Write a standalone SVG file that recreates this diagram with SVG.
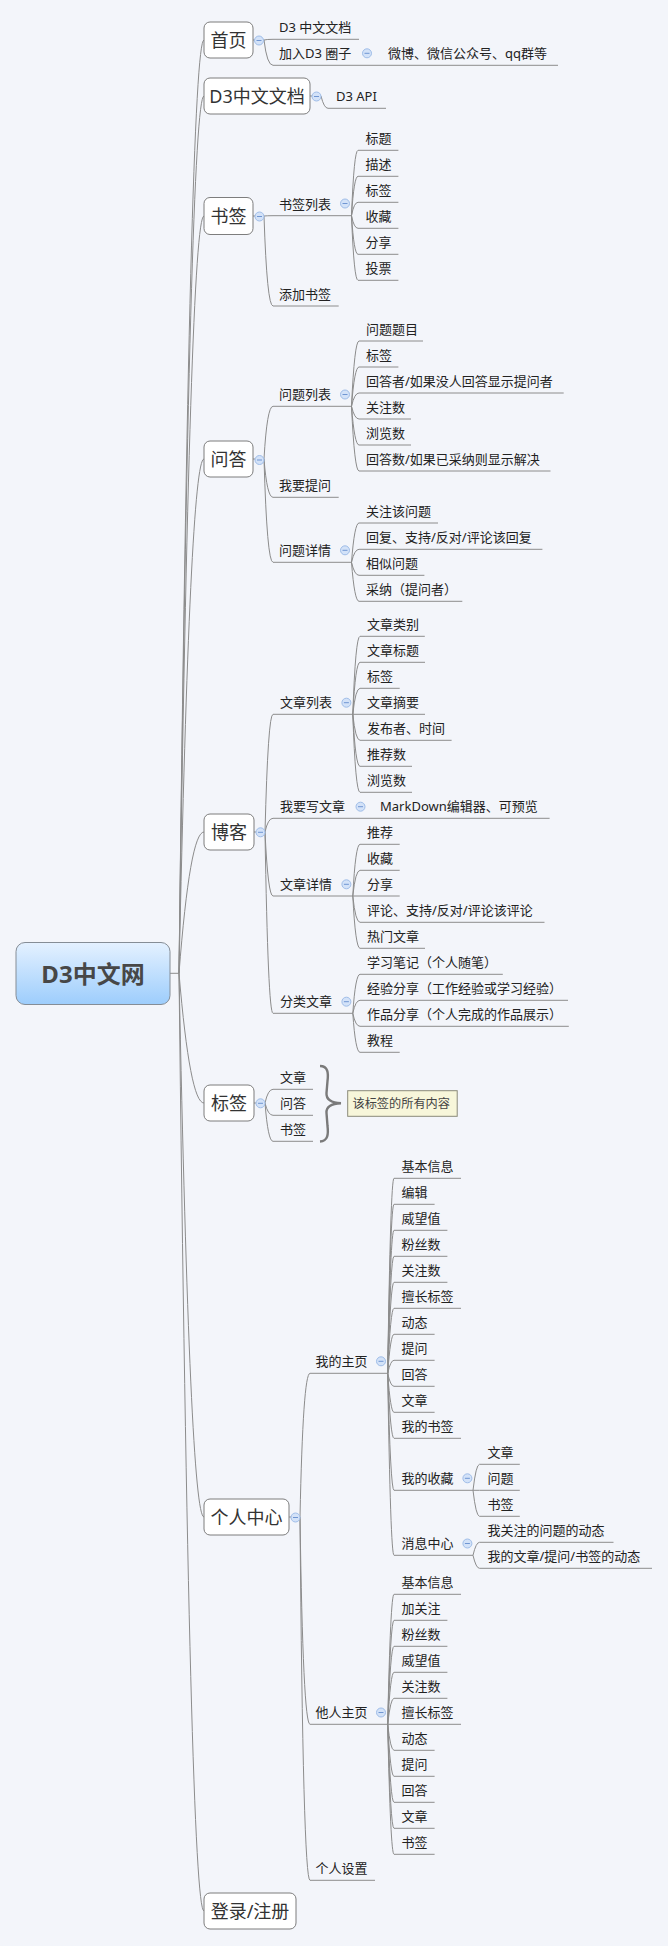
<svg xmlns="http://www.w3.org/2000/svg" xmlns:xlink="http://www.w3.org/1999/xlink" width="668" height="1946" viewBox="0 0 668 1946">
<style>
.c{fill:none;stroke:#8c8c8c;stroke-width:1}
.u{fill:none;stroke:#8c8c8c;stroke-width:1}
.t{font-family:"Noto Sans","Noto Sans CJK SC",sans-serif;font-size:13px;fill:#222}
.m{font-family:"Noto Sans","Noto Sans CJK SC",sans-serif;font-size:18px;fill:#333;text-anchor:middle}
.box{fill:#fff;stroke:#7d7d7d;stroke-width:1}
.btn circle{fill:#d3e2f8;stroke:#9fbde8;stroke-width:1}
.btn line{stroke:#7096d2;stroke-width:1}
</style>
<defs>
<linearGradient id="rootg" x1="0" y1="0" x2="0" y2="1">
<stop offset="0" stop-color="#e4f1ff"/>
<stop offset="1" stop-color="#9dcdfc"/>
</linearGradient>
<g id="btn" class="btn"><circle r="4.5"/><line x1="-2.5" y1="0" x2="2.5" y2="0"/></g>
</defs>
<rect width="668" height="1946" fill="#f3f5fa"/>

<g id="connectors">
<path class="c" d="M170 973.3H179"/>
<path class="c" d="M179 973.3Q190 40 204 40"/>
<path class="c" d="M179 973.3Q190 96 204 96"/>
<path class="c" d="M179 973.3Q190 216 204 216"/>
<path class="c" d="M179 973.3Q190 459 204 459"/>
<path class="c" d="M179 973.3Q190 832 204 832"/>
<path class="c" d="M179 973.3Q190 1103 204 1103"/>
<path class="c" d="M179 973.3Q190 1517 204 1517"/>
<path class="c" d="M179 973.3Q190 1911 204 1911"/>
<path class="c" d="M253 40H264Q267 39.3 273 39.3"/>
<path class="c" d="M264 40Q267 65.3 273 65.3"/>
<path class="c" d="M372 65.3H380"/>
<path class="c" d="M310 96H321Q324 108.3 328 108.3"/>
<path class="c" d="M253 216H264Q267 215.7 273 215.7"/>
<path class="c" d="M264 216Q267 306 273 306"/>
<path class="c" d="M351.5 215.7Q354 150.3 358 150.3"/>
<path class="c" d="M351.5 215.7Q354 176.3 358 176.3"/>
<path class="c" d="M351.5 215.7Q354 202.3 358 202.3"/>
<path class="c" d="M351.5 215.7Q354 228.3 358 228.3"/>
<path class="c" d="M351.5 215.7Q354 254.3 358 254.3"/>
<path class="c" d="M351.5 215.7Q354 280.3 358 280.3"/>
<path class="c" d="M253 459H264Q267 406.3 273 406.3"/>
<path class="c" d="M264 459Q267 497.3 273 497.3"/>
<path class="c" d="M264 459Q267 562.3 273 562.3"/>
<path class="c" d="M351.5 406.3Q354.5 341 359 341"/>
<path class="c" d="M351.5 406.3Q354.5 367 359 367"/>
<path class="c" d="M351.5 406.3Q354.5 393 359 393"/>
<path class="c" d="M351.5 406.3Q354.5 419 359 419"/>
<path class="c" d="M351.5 406.3Q354.5 445 359 445"/>
<path class="c" d="M351.5 406.3Q354.5 471 359 471"/>
<path class="c" d="M351.5 562.3Q354.5 523 359 523"/>
<path class="c" d="M351.5 562.3Q354.5 549.3 359 549.3"/>
<path class="c" d="M351.5 562.3Q354.5 575.3 359 575.3"/>
<path class="c" d="M351.5 562.3Q354.5 601.3 359 601.3"/>
<path class="c" d="M254 832H265Q268 714.3 273 714.3"/>
<path class="c" d="M265 832Q268 818.3 273 818.3"/>
<path class="c" d="M265 832Q268 896 273 896"/>
<path class="c" d="M265 832Q268 1013.3 273 1013.3"/>
<path class="c" d="M352.8 714.3Q355.5 636.3 360 636.3"/>
<path class="c" d="M352.8 714.3Q355.5 662.3 360 662.3"/>
<path class="c" d="M352.8 714.3Q355.5 688.3 360 688.3"/>
<path class="c" d="M352.8 714.3H360"/>
<path class="c" d="M352.8 714.3Q355.5 740.3 360 740.3"/>
<path class="c" d="M352.8 714.3Q355.5 766.3 360 766.3"/>
<path class="c" d="M352.8 714.3Q355.5 792.3 360 792.3"/>
<path class="c" d="M366 818.3H373"/>
<path class="c" d="M352.8 896Q355.5 844.3 360 844.3"/>
<path class="c" d="M352.8 896Q355.5 870.3 360 870.3"/>
<path class="c" d="M352.8 896H360"/>
<path class="c" d="M352.8 896Q355.5 922.3 360 922.3"/>
<path class="c" d="M352.8 896Q355.5 948.3 360 948.3"/>
<path class="c" d="M352.8 1013.3Q355.5 974.3 360 974.3"/>
<path class="c" d="M352.8 1013.3Q355.5 1000.3 360 1000.3"/>
<path class="c" d="M352.8 1013.3Q355.5 1026.3 360 1026.3"/>
<path class="c" d="M352.8 1013.3Q355.5 1052.3 360 1052.3"/>
<path class="c" d="M254 1103H265Q268 1089.3 273 1089.3"/>
<path class="c" d="M265 1103Q268 1115.3 273 1115.3"/>
<path class="c" d="M265 1103Q268 1141.3 273 1141.3"/>
<path class="c" d="M289 1517H300Q303 1373.3 310 1373.3"/>
<path class="c" d="M300 1517Q303 1724.3 310 1724.3"/>
<path class="c" d="M300 1517Q303 1880.3 310 1880.3"/>
<path class="c" d="M387.7 1373.3Q390.5 1178.3 394 1178.3"/>
<path class="c" d="M387.7 1373.3Q390.5 1204.3 394 1204.3"/>
<path class="c" d="M387.7 1373.3Q390.5 1230.3 394 1230.3"/>
<path class="c" d="M387.7 1373.3Q390.5 1256.3 394 1256.3"/>
<path class="c" d="M387.7 1373.3Q390.5 1282.3 394 1282.3"/>
<path class="c" d="M387.7 1373.3Q390.5 1308.3 394 1308.3"/>
<path class="c" d="M387.7 1373.3Q390.5 1334.3 394 1334.3"/>
<path class="c" d="M387.7 1373.3Q390.5 1360.3 394 1360.3"/>
<path class="c" d="M387.7 1373.3Q390.5 1386.3 394 1386.3"/>
<path class="c" d="M387.7 1373.3Q390.5 1412.3 394 1412.3"/>
<path class="c" d="M387.7 1373.3Q390.5 1438.3 394 1438.3"/>
<path class="c" d="M387.7 1373.3Q390.5 1490.3 394 1490.3"/>
<path class="c" d="M387.7 1373.3Q390.5 1555.3 394 1555.3"/>
<path class="c" d="M473 1490.3Q476 1464.3 479.5 1464.3"/>
<path class="c" d="M473 1490.3H479.5"/>
<path class="c" d="M473 1490.3Q476 1516.3 479.5 1516.3"/>
<path class="c" d="M473 1555.3Q476 1542.3 479.5 1542.3"/>
<path class="c" d="M473 1555.3Q476 1568.3 479.5 1568.3"/>
<path class="c" d="M387.7 1724.3Q390.5 1594.3 394 1594.3"/>
<path class="c" d="M387.7 1724.3Q390.5 1620.3 394 1620.3"/>
<path class="c" d="M387.7 1724.3Q390.5 1646.3 394 1646.3"/>
<path class="c" d="M387.7 1724.3Q390.5 1672.3 394 1672.3"/>
<path class="c" d="M387.7 1724.3Q390.5 1698.3 394 1698.3"/>
<path class="c" d="M387.7 1724.3H394"/>
<path class="c" d="M387.7 1724.3Q390.5 1750.3 394 1750.3"/>
<path class="c" d="M387.7 1724.3Q390.5 1776.3 394 1776.3"/>
<path class="c" d="M387.7 1724.3Q390.5 1802.3 394 1802.3"/>
<path class="c" d="M387.7 1724.3Q390.5 1828.3 394 1828.3"/>
<path class="c" d="M387.7 1724.3Q390.5 1854.3 394 1854.3"/>
</g>

<g id="root">
<rect x="16" y="942.5" width="154" height="62" rx="9" fill="url(#rootg)" stroke="#858d96"/>
<text x="93" y="983" text-anchor="middle" style="font-family:'Noto Sans','Noto Sans CJK SC',sans-serif;font-size:24px;font-weight:bold;fill:#474747">D3中文网</text>
</g>

<g id="n-home"><rect class="box" x="204" y="22" width="49" height="36" rx="6"/><text class="m" x="228.5" y="47">首页</text><use href="#btn" x="259" y="40.5"/></g>
<g id="n-doc"><rect class="box" x="204" y="78" width="106" height="36" rx="6"/><text class="m" x="257" y="103">D3中文文档</text><use href="#btn" x="316.5" y="96.5"/></g>
<g id="n-bookmark"><rect class="box" x="204" y="197.5" width="49" height="37" rx="6"/><text class="m" x="228.5" y="223">书签</text><use href="#btn" x="259.5" y="216.5"/></g>
<g id="n-qa"><rect class="box" x="204" y="441" width="49" height="36" rx="6"/><text class="m" x="228.5" y="466">问答</text><use href="#btn" x="259.5" y="460"/></g>
<g id="n-blog"><rect class="box" x="204" y="814" width="50" height="36" rx="6"/><text class="m" x="229" y="839">博客</text><use href="#btn" x="260.5" y="832.3"/></g>
<g id="n-tag"><rect class="box" x="204" y="1085" width="50" height="36" rx="6"/><text class="m" x="229" y="1110">标签</text><use href="#btn" x="260.5" y="1103.3"/></g>
<g id="n-user"><rect class="box" x="204" y="1499" width="85" height="36" rx="6"/><text class="m" x="246.5" y="1524">个人中心</text><use href="#btn" x="295.5" y="1517.5"/></g>
<g id="n-login"><rect class="box" x="204" y="1893" width="92" height="36" rx="6"/><text class="m" x="250" y="1918">登录/注册</text></g>

<g id="n-home-doc"><path class="u" d="M273 39.3H359"/><text class="t" x="279" y="32.3">D3 中文文档</text></g>
<g id="n-home-join"><path class="u" d="M273 65.3H372"/><text class="t" x="279" y="58.3">加入D3 圈子</text><use href="#btn" x="367" y="53.3"/></g>
<g id="n-home-join-sns"><path class="u" d="M380 65.3H558"/><text class="t" x="388" y="58.3">微博、微信公众号、qq群等</text></g>
<g id="n-doc-api"><path class="u" d="M328 108.3H386"/><text class="t" x="336" y="101.3">D3 API</text></g>
<g id="n-bm-list"><path class="u" d="M273 215.7H351.5"/><text class="t" x="279" y="208.7">书签列表</text><use href="#btn" x="345" y="203.5"/></g>
<g id="n-bm-add"><path class="u" d="M273 306H338.7"/><text class="t" x="279" y="299">添加书签</text></g>
<g id="n-bm-l1"><path class="u" d="M358 150.3H398.4"/><text class="t" x="365.5" y="143.3">标题</text></g>
<g id="n-bm-l2"><path class="u" d="M358 176.3H398.4"/><text class="t" x="365.5" y="169.3">描述</text></g>
<g id="n-bm-l3"><path class="u" d="M358 202.3H398.4"/><text class="t" x="365.5" y="195.3">标签</text></g>
<g id="n-bm-l4"><path class="u" d="M358 228.3H398.4"/><text class="t" x="365.5" y="221.3">收藏</text></g>
<g id="n-bm-l5"><path class="u" d="M358 254.3H398.4"/><text class="t" x="365.5" y="247.3">分享</text></g>
<g id="n-bm-l6"><path class="u" d="M358 280.3H398.4"/><text class="t" x="365.5" y="273.3">投票</text></g>
<g id="n-qa-list"><path class="u" d="M273 406.3H351.5"/><text class="t" x="279" y="399.3">问题列表</text><use href="#btn" x="345" y="394.5"/></g>
<g id="n-qa-ask"><path class="u" d="M273 497.3H338.7"/><text class="t" x="279" y="490.3">我要提问</text></g>
<g id="n-qa-detail"><path class="u" d="M273 562.3H351.5"/><text class="t" x="279" y="555.3">问题详情</text><use href="#btn" x="345" y="550.3"/></g>
<g id="n-qa-l1"><path class="u" d="M359 341H423"/><text class="t" x="366" y="334">问题题目</text></g>
<g id="n-qa-l2"><path class="u" d="M359 367H398.4"/><text class="t" x="366" y="360">标签</text></g>
<g id="n-qa-l3"><path class="u" d="M359 393H563.7"/><text class="t" x="366" y="386">回答者/如果没人回答显示提问者</text></g>
<g id="n-qa-l4"><path class="u" d="M359 419H411"/><text class="t" x="366" y="412">关注数</text></g>
<g id="n-qa-l5"><path class="u" d="M359 445H411"/><text class="t" x="366" y="438">浏览数</text></g>
<g id="n-qa-l6"><path class="u" d="M359 471H550.5"/><text class="t" x="366" y="464">回答数/如果已采纳则显示解决</text></g>
<g id="n-qa-d1"><path class="u" d="M359 523H438"/><text class="t" x="366" y="516">关注该问题</text></g>
<g id="n-qa-d2"><path class="u" d="M359 549.3H542.4"/><text class="t" x="366" y="542.3">回复、支持/反对/评论该回复</text></g>
<g id="n-qa-d3"><path class="u" d="M359 575.3H424.4"/><text class="t" x="366" y="568.3">相似问题</text></g>
<g id="n-qa-d4"><path class="u" d="M359 601.3H462.3"/><text class="t" x="366" y="594.3">采纳（提问者）</text></g>
<g id="n-blog-list"><path class="u" d="M273 714.3H352.8"/><text class="t" x="280" y="707.3">文章列表</text><use href="#btn" x="346.4" y="702.7"/></g>
<g id="n-blog-write"><path class="u" d="M273 818.3H366"/><text class="t" x="280" y="811.3">我要写文章</text><use href="#btn" x="360.5" y="806.7"/></g>
<g id="n-blog-write-md"><path class="u" d="M373 818.3H549.6"/><text class="t" x="380" y="811.3">MarkDown编辑器、可预览</text></g>
<g id="n-blog-detail"><path class="u" d="M273 896H352.8"/><text class="t" x="280" y="889">文章详情</text><use href="#btn" x="346.4" y="884.3"/></g>
<g id="n-blog-cat"><path class="u" d="M273 1013.3H352.8"/><text class="t" x="280" y="1006.3">分类文章</text><use href="#btn" x="346.4" y="1001.7"/></g>
<g id="n-bl-l1"><path class="u" d="M360 636.3H424.8"/><text class="t" x="367" y="629.3">文章类别</text></g>
<g id="n-bl-l2"><path class="u" d="M360 662.3H425"/><text class="t" x="367" y="655.3">文章标题</text></g>
<g id="n-bl-l3"><path class="u" d="M360 688.3H399.7"/><text class="t" x="367" y="681.3">标签</text></g>
<g id="n-bl-l4"><path class="u" d="M360 714.3H425"/><text class="t" x="367" y="707.3">文章摘要</text></g>
<g id="n-bl-l5"><path class="u" d="M360 740.3H451.6"/><text class="t" x="367" y="733.3">发布者、时间</text></g>
<g id="n-bl-l6"><path class="u" d="M360 766.3H412"/><text class="t" x="367" y="759.3">推荐数</text></g>
<g id="n-bl-l7"><path class="u" d="M360 792.3H412"/><text class="t" x="367" y="785.3">浏览数</text></g>
<g id="n-bd-1"><path class="u" d="M360 844.3H399.7"/><text class="t" x="367" y="837.3">推荐</text></g>
<g id="n-bd-2"><path class="u" d="M360 870.3H399.7"/><text class="t" x="367" y="863.3">收藏</text></g>
<g id="n-bd-3"><path class="u" d="M360 896H399.7"/><text class="t" x="367" y="889">分享</text></g>
<g id="n-bd-4"><path class="u" d="M360 922.3H544.5"/><text class="t" x="367" y="915.3">评论、支持/反对/评论该评论</text></g>
<g id="n-bd-5"><path class="u" d="M360 948.3H425"/><text class="t" x="367" y="941.3">热门文章</text></g>
<g id="n-bc-1"><path class="u" d="M360 974.3H502.8"/><text class="t" x="367" y="967.3">学习笔记（个人随笔）</text></g>
<g id="n-bc-2"><path class="u" d="M360 1000.3H568"/><text class="t" x="367" y="993.3">经验分享（工作经验或学习经验）</text></g>
<g id="n-bc-3"><path class="u" d="M360 1026.3H568.8"/><text class="t" x="367" y="1019.3">作品分享（个人完成的作品展示）</text></g>
<g id="n-bc-4"><path class="u" d="M360 1052.3H399.7"/><text class="t" x="367" y="1045.3">教程</text></g>
<g id="n-tag-1"><path class="u" d="M273 1089.3H313"/><text class="t" x="280" y="1082.3">文章</text></g>
<g id="n-tag-2"><path class="u" d="M273 1115.3H313"/><text class="t" x="280" y="1108.3">问答</text></g>
<g id="n-tag-3"><path class="u" d="M273 1141.3H313"/><text class="t" x="280" y="1134.3">书签</text></g>
<g id="n-tag-summary">
<path d="M320 1066C328 1066 328.5 1073 327.5 1081L326.5 1093C326 1099 331 1103 341 1103.3C331 1103.6 326 1107 326.5 1113L327.5 1126C328.5 1134 328 1141 320 1141.5" fill="none" stroke="#7a7a7a" stroke-width="2.4"/>
<rect x="347.7" y="1090.7" width="109.5" height="25.6" fill="#f7f6da" stroke="#8a8a7a"/>
<text x="352.5" y="1108" style="font-family:'Noto Sans','Noto Sans CJK SC',sans-serif;font-size:12.2px;fill:#444">该标签的所有内容</text>
</g>
<g id="n-user-home"><path class="u" d="M310 1373.3H387.7"/><text class="t" x="315.5" y="1366.3">我的主页</text><use href="#btn" x="381" y="1361.3"/></g>
<g id="n-user-other"><path class="u" d="M310 1724.3H387.7"/><text class="t" x="315.5" y="1717.3">他人主页</text><use href="#btn" x="381" y="1712.5"/></g>
<g id="n-user-set"><path class="u" d="M310 1880.3H375"/><text class="t" x="315.5" y="1873.3">个人设置</text></g>
<g id="n-uh-1"><path class="u" d="M394 1178.3H461"/><text class="t" x="401.5" y="1171.3">基本信息</text></g>
<g id="n-uh-2"><path class="u" d="M394 1204.3H434.6"/><text class="t" x="401.5" y="1197.3">编辑</text></g>
<g id="n-uh-3"><path class="u" d="M394 1230.3H447.4"/><text class="t" x="401.5" y="1223.3">威望值</text></g>
<g id="n-uh-4"><path class="u" d="M394 1256.3H447.4"/><text class="t" x="401.5" y="1249.3">粉丝数</text></g>
<g id="n-uh-5"><path class="u" d="M394 1282.3H447.4"/><text class="t" x="401.5" y="1275.3">关注数</text></g>
<g id="n-uh-6"><path class="u" d="M394 1308.3H461"/><text class="t" x="401.5" y="1301.3">擅长标签</text></g>
<g id="n-uh-7"><path class="u" d="M394 1334.3H434.6"/><text class="t" x="401.5" y="1327.3">动态</text></g>
<g id="n-uh-8"><path class="u" d="M394 1360.3H434.6"/><text class="t" x="401.5" y="1353.3">提问</text></g>
<g id="n-uh-9"><path class="u" d="M394 1386.3H434.6"/><text class="t" x="401.5" y="1379.3">回答</text></g>
<g id="n-uh-10"><path class="u" d="M394 1412.3H434.6"/><text class="t" x="401.5" y="1405.3">文章</text></g>
<g id="n-uh-11"><path class="u" d="M394 1438.3H461"/><text class="t" x="401.5" y="1431.3">我的书签</text></g>
<g id="n-uh-fav"><path class="u" d="M394 1490.3H473"/><text class="t" x="401.5" y="1483.3">我的收藏</text><use href="#btn" x="467.4" y="1478.3"/></g>
<g id="n-uh-msg"><path class="u" d="M394 1555.3H473"/><text class="t" x="401.5" y="1548.3">消息中心</text><use href="#btn" x="467.4" y="1543.5"/></g>
<g id="n-fav-1"><path class="u" d="M479.5 1464.3H519.8"/><text class="t" x="487.5" y="1457.3">文章</text></g>
<g id="n-fav-2"><path class="u" d="M479.5 1490.3H519.8"/><text class="t" x="487.5" y="1483.3">问题</text></g>
<g id="n-fav-3"><path class="u" d="M479.5 1516.3H519.8"/><text class="t" x="487.5" y="1509.3">书签</text></g>
<g id="n-msg-1"><path class="u" d="M479.5 1542.3H613.5"/><text class="t" x="487.5" y="1535.3">我关注的问题的动态</text></g>
<g id="n-msg-2"><path class="u" d="M479.5 1568.3H652"/><text class="t" x="487.5" y="1561.3">我的文章/提问/书签的动态</text></g>
<g id="n-uo-1"><path class="u" d="M394 1594.3H461"/><text class="t" x="401.5" y="1587.3">基本信息</text></g>
<g id="n-uo-2"><path class="u" d="M394 1620.3H447.4"/><text class="t" x="401.5" y="1613.3">加关注</text></g>
<g id="n-uo-3"><path class="u" d="M394 1646.3H447.4"/><text class="t" x="401.5" y="1639.3">粉丝数</text></g>
<g id="n-uo-4"><path class="u" d="M394 1672.3H447.4"/><text class="t" x="401.5" y="1665.3">威望值</text></g>
<g id="n-uo-5"><path class="u" d="M394 1698.3H447.4"/><text class="t" x="401.5" y="1691.3">关注数</text></g>
<g id="n-uo-6"><path class="u" d="M394 1724.3H461"/><text class="t" x="401.5" y="1717.3">擅长标签</text></g>
<g id="n-uo-7"><path class="u" d="M394 1750.3H434.6"/><text class="t" x="401.5" y="1743.3">动态</text></g>
<g id="n-uo-8"><path class="u" d="M394 1776.3H434.6"/><text class="t" x="401.5" y="1769.3">提问</text></g>
<g id="n-uo-9"><path class="u" d="M394 1802.3H434.6"/><text class="t" x="401.5" y="1795.3">回答</text></g>
<g id="n-uo-10"><path class="u" d="M394 1828.3H434.6"/><text class="t" x="401.5" y="1821.3">文章</text></g>
<g id="n-uo-11"><path class="u" d="M394 1854.3H434.6"/><text class="t" x="401.5" y="1847.3">书签</text></g>
</svg>
